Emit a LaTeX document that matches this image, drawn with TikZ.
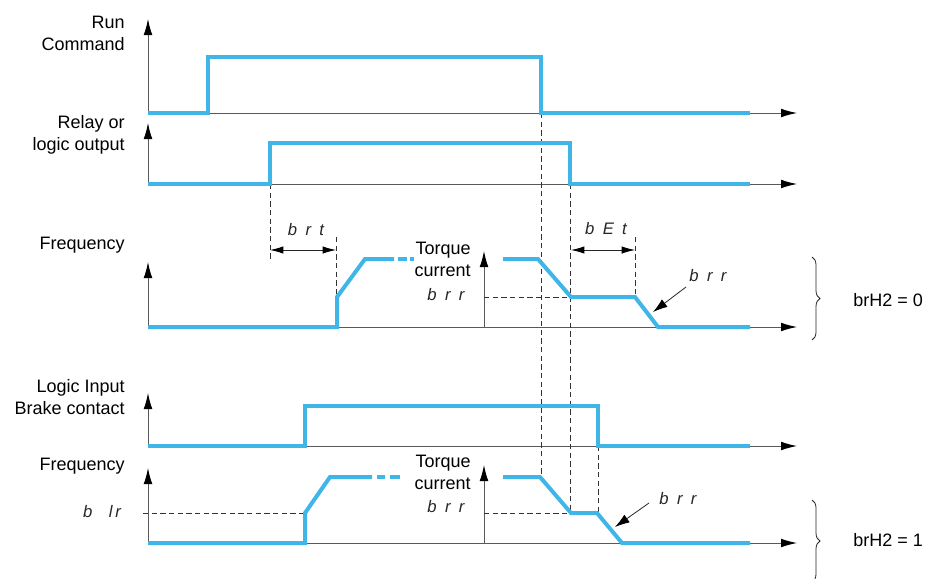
\documentclass[tikz,border=0pt]{standalone}
\usepackage{fontspec}
\setmainfont{Liberation Sans}
\usetikzlibrary{arrows.meta,decorations.pathreplacing}
\definecolor{sigblue}{RGB}{64,182,232}

\begin{document}
\begin{tikzpicture}[
  x=0.75pt, y=-0.75pt,
  font=\fontsize{13.5}{16.5}\selectfont,
  sig/.style={draw=sigblue, line width=3pt},
  axis/.style={draw=black!65, line width=0.7pt, -{Latex[length=12pt,width=6.5pt,black]}},
  guide/.style={draw=black!80, line width=0.6pt, dash pattern=on 4pt off 2.5pt},
  dim/.style={draw=black!85, line width=0.6pt, {Latex[length=10pt,width=5.5pt,black]}-{Latex[length=10pt,width=5.5pt,black]}},
  ptr/.style={draw=black!85, line width=0.6pt, -{Latex[length=11pt,width=7pt,black]}},
  lbl/.style={align=right, anchor=east, inner sep=0pt},
  seg/.style={font=\fontsize{12.5}{14}\selectfont\itshape, text=black!85, inner sep=1pt},
  grp/.style={draw=black!85, line width=0.6pt, decorate, decoration={brace, amplitude=6pt}}
]
\useasboundingbox (0,0) rectangle (927,578);

% ---------- Axes ----------
\draw[axis] (148,113) -- (797,113);
\draw[axis] (148,113) -- (148,19);
\draw[axis] (148,184) -- (797,184);
\draw[axis] (148,184) -- (148,123);
\draw[axis] (148,327) -- (797,327);
\draw[axis] (148,327) -- (148,262);
\draw[axis] (484,327) -- (484,251);
\draw[axis] (148,446) -- (797,446);
\draw[axis] (148,446) -- (148,393);
\draw[axis] (148,543) -- (797,543);
\draw[axis] (148,543) -- (148,468);
\draw[axis] (484,543) -- (484,465);

% ---------- Axis labels ----------
\node[lbl] (run)   at (125,33)  {Run\\Command};
\node[lbl] (relay) at (125,135) {Relay or\\logic output};
\node[lbl] (freqa) at (125,245) {Frequency};
\node[lbl] (brake) at (125,397) {Logic Input\\Brake contact};
\node[lbl] (freqb) at (125,466) {Frequency};
\node[lbl] (tqa)   at (471,259) {Torque\\current};
\node[lbl] (tqb)   at (471,472) {Torque\\current};

% ---------- Key instants ----------
\coordinate (runoff)   at (541,113);
\coordinate (relayon)  at (270,184);
\coordinate (relayoff) at (570,184);
\coordinate (brakeoff) at (598,446);
\coordinate (rampa)    at (336,237);
\coordinate (beta)     at (635,237);
\coordinate (blrpt)    at (305,513);

% ---------- Guide lines ----------
\draw[guide] (runoff) -- (541,476);
\draw[guide] (relayoff) -- (570,513);
\draw[guide] (brakeoff) -- (598,513);
\draw[guide] (relayon) -- (270,260);
\draw[guide] (rampa) -- (336,327);
\draw[guide] (beta) -- (635,297);
\draw[guide] (484,297) -- (571,297);
\draw[guide] (484,513) -- (571,513);
\draw[guide] (143,513) -- (blrpt);

% ---------- Signals ----------
\draw[sig] (148,113) -- (208,113) -- (208,57) -- (541,57) -- (541,113) -- (750,113);
\draw[sig] (148,184) -- (270,184) -- (270,143) -- (570,143) -- (570,184) -- (750,184);
\draw[sig] (148,327) -- (337,327) -- (337,297) -- (365,259) -- (394,259);
\draw[sig] (398,259) -- (407,259) (410,259) -- (414,259);
\draw[sig] (503,259) -- (538,259) -- (571,297) -- (635,297) -- (658,327) -- (750,327);
\draw[sig] (148,446) -- (305,446) -- (305,406) -- (598,406) -- (598,446) -- (750,446);
\draw[sig] (148,543) -- (305,543) -- (blrpt) -- (330,477) -- (372,477);
\draw[sig] (377,477) -- (385,477) (390,477) -- (400,477);
\draw[sig] (503,477) -- (540,477) -- (571,513) -- (597,513) -- (622,543) -- (750,543);

% ---------- Parameters ----------
\node[seg] (brt) at (306,230) {b\enspace r\enspace t};
\draw[dim] (270,250) -- (336,250);
\node[seg] (bet) at (606,229) {b\enspace E\enspace t};
\draw[dim] (571,250) -- (635,250);
\node[seg] (brra) at (446,295) {b\enspace r\enspace r};
\node[seg] (brrb) at (446,507) {b\enspace r\enspace r};
\node[seg] (blr)  at (102,512) {b\enspace\enspace l\,r};
\node[seg] (brrc) at (708,276) {b\enspace r\enspace r};
\coordinate (slopea) at (653,312);
\draw[ptr] (686,287) -- (slopea);
\node[seg] (brrd) at (678,499) {b\enspace r\enspace r};
\coordinate (slopeb) at (615,527);
\draw[ptr] (649,503) -- (slopeb);

% ---------- Configurations ----------
\draw[grp] (812,257) -- (812,340);
\node[anchor=west, inner sep=0pt] (hza) at (853,300) {brH2 = 0};
\draw[grp] (812,500) -- (812,582);
\node[anchor=west, inner sep=0pt] (hzb) at (853,540) {brH2 = 1};
\end{tikzpicture}
\end{document}
